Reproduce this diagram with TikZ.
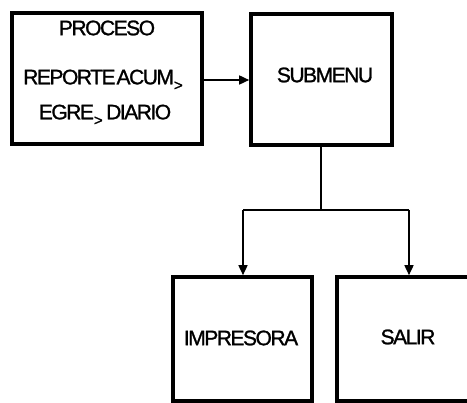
\documentclass[tikz,border=0pt]{standalone}
\usepackage{fontspec}
\setmainfont{Liberation Sans}
\newfontfamily\lblfont[LetterSpace=-7.0,FakeBold=1.2]{Liberation Sans}
\usetikzlibrary{arrows.meta}
\begin{document}
\begin{tikzpicture}[x=1pt,y=-1pt,
  box/.style={draw=black,line width=3.6pt,inner sep=0pt},
  lbl/.style={inner sep=0pt,font=\lblfont\fontsize{21}{23}\selectfont},
  conn/.style={line width=1.6pt},
  arr/.style={conn,-{Triangle[length=10pt,width=9pt]}}]
\useasboundingbox (0,0) rectangle (467,403);
\clip (0,0) rectangle (467,403);
\fill[white] (0,0) rectangle (467,403);
% boxes
\node[box,minimum width=190pt,minimum height=131pt] (b1) at (107,78.5) {};
\node[box,minimum width=141pt,minimum height=131pt] (b2) at (321.5,79.5) {};
\node[box,minimum width=139pt,minimum height=124pt] (b3) at (242.5,339) {};
\node[box,minimum width=150pt,minimum height=124pt] (b4) at (412,339) {};
% labels
\node[lbl] (t1) at (107,28) {PROCESO};
\node[lbl] (t2) at (103,80) {REPORTE\kern1pt ACUM\raisebox{-6pt}{\fontsize{15}{15}\selectfont >}};
\node[lbl] (t3) at (105,115) {EGRE\raisebox{-6pt}{\fontsize{15}{15}\selectfont >}\,DIARIO};
\node[lbl] (t4) at (325,75) {SUBMENU};
\node[lbl] (t5) at (241,338) {IMPRESORA};
\node[lbl] (t6) at (408,337) {SALIR};
% connectors
\coordinate (j) at (321,210);
\coordinate (jl) at (243,210);
\coordinate (jr) at (409,210);
\draw[arr] (b1.east |- 0,80) -- (b2.west |- 0,80);
\draw[conn] (b2.south -| j) -- (j);
\draw[conn] (jl) -- (jr);
\draw[arr] (jl) -- (jl |- b3.north);
\draw[arr] (jr) -- (jr |- b4.north);
\end{tikzpicture}
\end{document}
